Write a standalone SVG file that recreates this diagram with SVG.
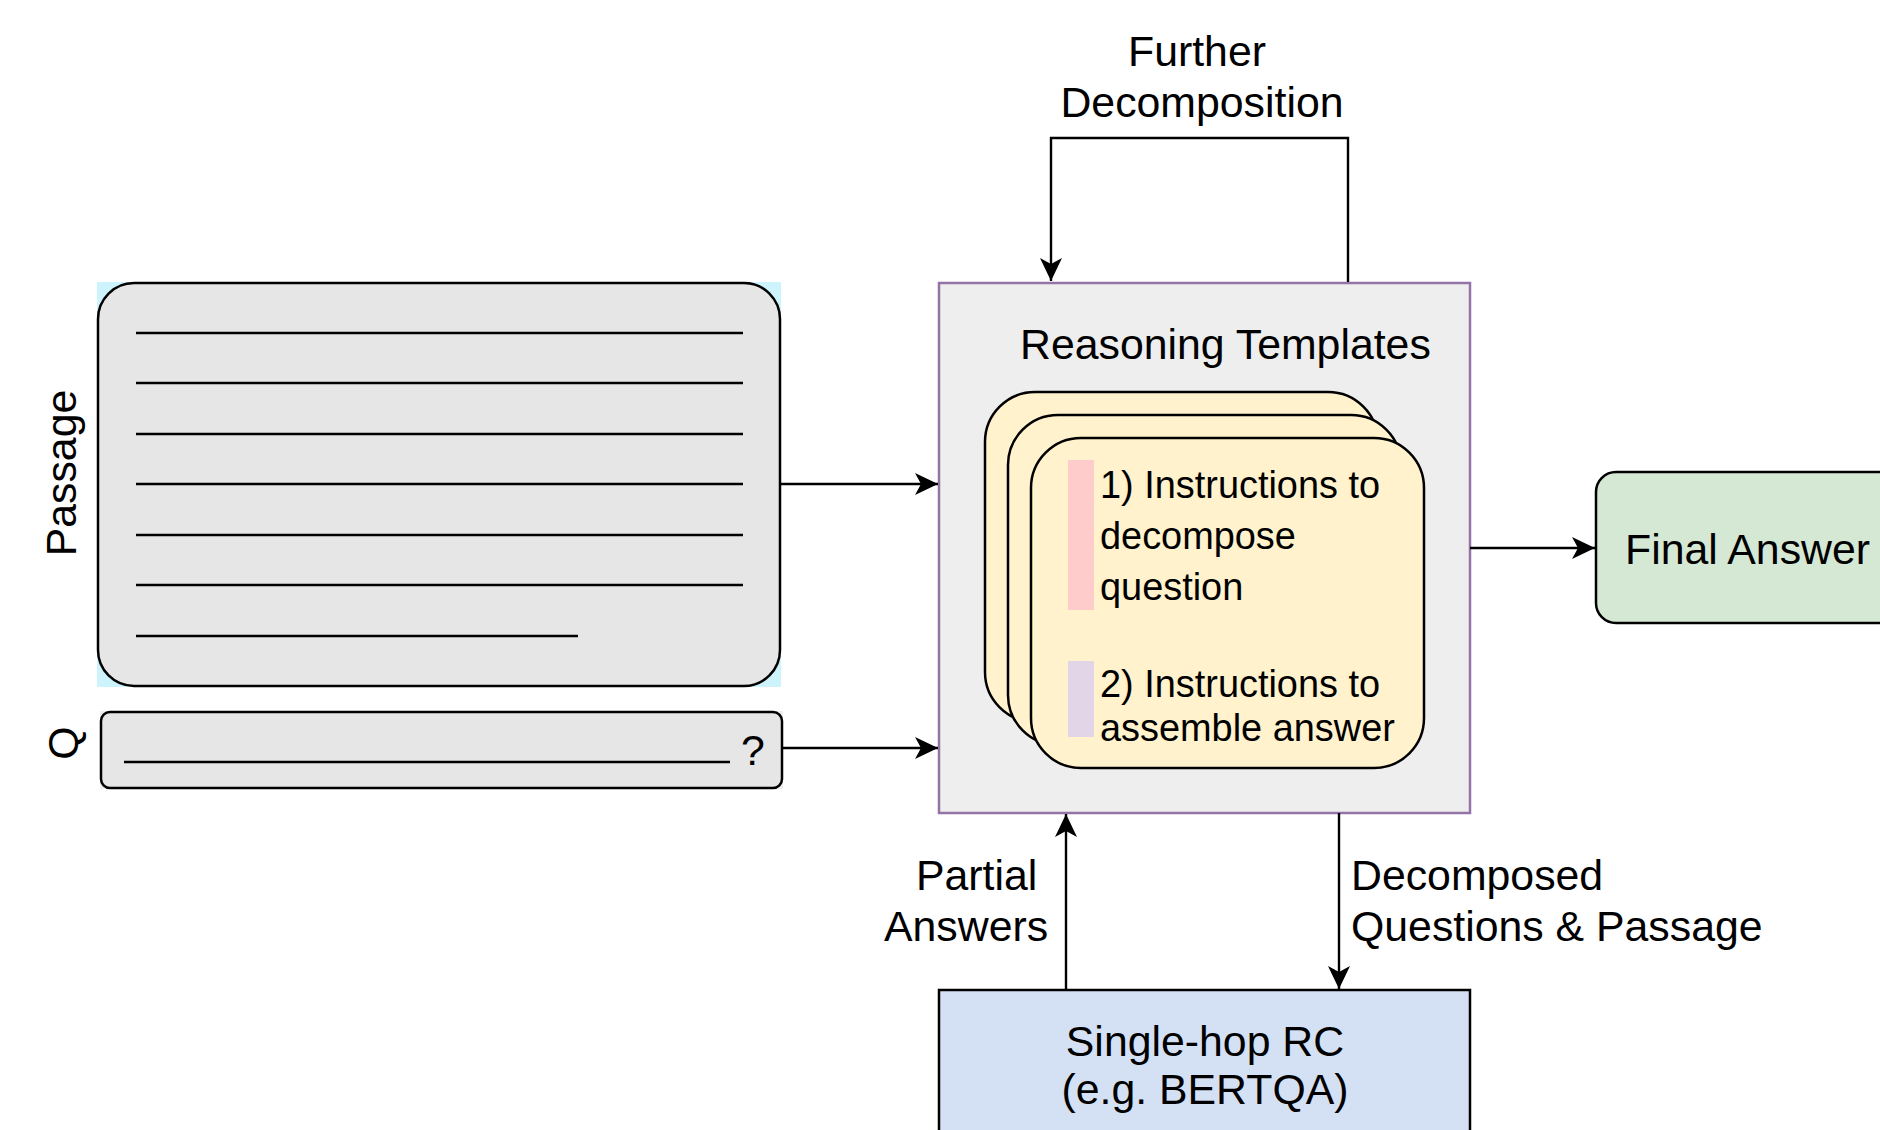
<svg xmlns="http://www.w3.org/2000/svg" width="1880" height="1130" viewBox="0 0 1880 1130">
<style>
text{font-family:"Liberation Sans",Arial,Helvetica,sans-serif;fill:#000}
.lbl{font-size:42.8px}
.card{font-size:37.9px}
.edge{fill:none;stroke:#000;stroke-width:2.4}
.ln{stroke:#000;stroke-width:2.7}
.box{stroke:#000;stroke-width:2.5}
</style>
<defs>
<marker id="arr" markerUnits="userSpaceOnUse" viewBox="-24 -12 25 24" markerWidth="25" markerHeight="24" refX="0" refY="0" orient="auto">
<path d="M0,0 L-23,-11 L-17,0 L-23,11 Z" fill="#000"/>
</marker>
</defs>
<rect width="1880" height="1130" fill="#fff"/>

<g id="passage">
<rect x="97" y="282" width="684" height="405" fill="#cdf3fd"/>
<rect x="98" y="283" width="682" height="403" rx="36" fill="#e6e6e6" class="box"/>
<line class="ln" x1="136" y1="333" x2="743" y2="333"/>
<line class="ln" x1="136" y1="383" x2="743" y2="383"/>
<line class="ln" x1="136" y1="434" x2="743" y2="434"/>
<line class="ln" x1="136" y1="484" x2="743" y2="484"/>
<line class="ln" x1="136" y1="535" x2="743" y2="535"/>
<line class="ln" x1="136" y1="585" x2="743" y2="585"/>
<line class="ln" x1="136" y1="636" x2="578" y2="636"/>
<text class="lbl" transform="translate(76,473) rotate(-90)" text-anchor="middle">Passage</text>
</g>

<g id="question">
<rect x="100" y="711" width="683" height="78" fill="#eeeeee"/>
<rect x="101" y="712" width="681" height="76" rx="9" fill="#e6e6e6" class="box"/>
<line class="ln" x1="124" y1="762" x2="730" y2="762"/>
<text class="lbl" x="753" y="765" text-anchor="middle">?</text>
<text class="lbl" transform="translate(78,743) rotate(-90)" text-anchor="middle">Q</text>
</g>

<g id="reasoning-templates">
<rect x="939" y="283" width="531" height="530" fill="#eeeeee" stroke="#9673a6" stroke-width="2.5"/>
<text class="lbl" x="1020" y="359">Reasoning Templates</text>
<rect x="985" y="392" width="393" height="330" rx="50" fill="#fff2cc" class="box"/>
<rect x="1008" y="415" width="393" height="330" rx="50" fill="#fff2cc" class="box"/>
<rect x="1031" y="438" width="393" height="330" rx="50" fill="#fff2cc" class="box"/>
<rect x="1068" y="460" width="26" height="150" fill="#ffcccc"/>
<rect x="1068" y="661" width="26" height="76" fill="#e1d5e7"/>
<text class="card" x="1100" y="498">1) Instructions to</text>
<text class="card" x="1100" y="549">decompose</text>
<text class="card" x="1100" y="600">question</text>
<text class="card" x="1100" y="697">2) Instructions to</text>
<text class="card" x="1100" y="741">assemble answer</text>
</g>

<g id="final-answer">
<rect x="1596" y="472" width="310" height="151" rx="20" fill="#d5e8d4" class="box"/>
<text class="lbl" x="1625" y="564">Final Answer</text>
</g>

<g id="single-hop">
<rect x="939" y="990" width="531" height="170" fill="#d4e1f5" class="box"/>
<text class="lbl" x="1205" y="1056" text-anchor="middle">Single-hop RC</text>
<text class="lbl" x="1205" y="1104" text-anchor="middle">(e.g. BERTQA)</text>
</g>

<g id="connectors">
<line class="edge" x1="781" y1="484" x2="938" y2="484" marker-end="url(#arr)"/>
<line class="edge" x1="783" y1="748" x2="938" y2="748" marker-end="url(#arr)"/>
<line class="edge" x1="1470" y1="548" x2="1595" y2="548" marker-end="url(#arr)"/>
<polyline class="edge" points="1348,282 1348,138 1051,138 1051,281" marker-end="url(#arr)"/>
<line class="edge" x1="1066" y1="990" x2="1066" y2="814" marker-end="url(#arr)"/>
<line class="edge" x1="1339" y1="813" x2="1339" y2="989" marker-end="url(#arr)"/>
<text class="lbl" x="1197" y="66" text-anchor="middle">Further</text>
<text class="lbl" x="1202" y="117" text-anchor="middle">Decomposition</text>
<text class="lbl" x="916" y="890">Partial</text>
<text class="lbl" x="884" y="941">Answers</text>
<text class="lbl" x="1351" y="890">Decomposed</text>
<text class="lbl" x="1351" y="941">Questions &amp; Passage</text>
</g>
</svg>
